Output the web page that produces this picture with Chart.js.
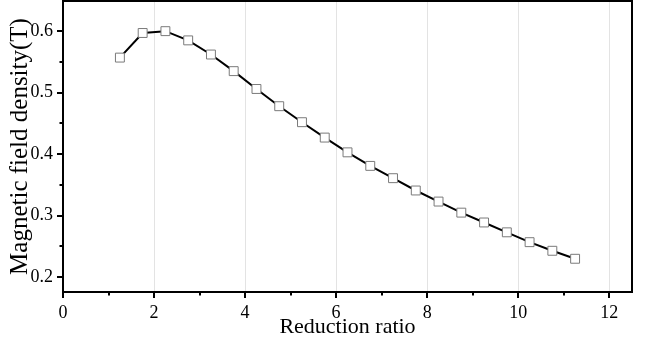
<!DOCTYPE html>
<html>
<head>
<meta charset="utf-8">
<script src="https://cdn.jsdelivr.net/npm/chart.js@4/dist/chart.umd.min.js"></script>
<style>
html,body{margin:0;padding:0;background:#fff;}
#wrap{width:645px;height:348px;}
</style>
</head>
<body>
<div id="wrap"><canvas id="c" width="645" height="348"></canvas></div>
<script>
const reductionRatio = [1.25,1.75,2.25,2.75,3.25,3.75,4.25,4.75,5.25,5.75,6.25,6.75,7.25,7.75,8.25,8.75,9.25,9.75,10.25,10.75,11.25];
const fieldDensity = [0.557,0.597,0.600,0.585,0.562,0.535,0.506,0.478,0.452,0.427,0.403,0.381,0.361,0.341,0.323,0.305,0.289,0.273,0.257,0.243,0.230];
const xMajorTicks = [0,2,4,6,8,10,12];
const xMinorTicks = [1,3,5,7,9,11];
const yMajorTicks = [0.2,0.3,0.4,0.5,0.6];
const yMinorTicks = [0.25,0.35,0.45,0.55];
const xTitle = 'Reduction ratio';
const yTitle = 'Magnetic field density(T)';

const tickPlugin = {
  id: 'tickMarks',
  afterDraw(chart) {
    const ctx = chart.ctx;
    const xs = chart.scales.x, ys = chart.scales.y;
    const a = chart.chartArea;
    ctx.save();
    ctx.strokeStyle = '#000';
    ctx.lineWidth = 2;
    ctx.beginPath();
    xMajorTicks.forEach(v => { const p = Math.round(xs.getPixelForValue(v)); ctx.moveTo(p, a.bottom); ctx.lineTo(p, a.bottom + 6); });
    xMinorTicks.forEach(v => { const p = Math.round(xs.getPixelForValue(v)); ctx.moveTo(p, a.bottom); ctx.lineTo(p, a.bottom + 3.5); });
    yMajorTicks.forEach(v => { const p = Math.round(ys.getPixelForValue(v)); ctx.moveTo(a.left, p); ctx.lineTo(a.left - 6, p); });
    yMinorTicks.forEach(v => { const p = Math.round(ys.getPixelForValue(v)); ctx.moveTo(a.left, p); ctx.lineTo(a.left - 3.5, p); });
    ctx.stroke();
    ctx.beginPath();
    ctx.moveTo(a.left, a.top);
    ctx.lineTo(a.right, a.top);
    ctx.lineTo(a.right, a.bottom);
    ctx.stroke();
    ctx.restore();
  }
};

new Chart(document.getElementById('c'), {
  type: 'line',
  data: {
    datasets: [{
      data: reductionRatio.map((x, i) => ({x: x, y: fieldDensity[i]})),
      borderColor: '#000',
      borderWidth: 2,
      tension: 0,
      pointStyle: 'rect',
      pointRadius: 6.3,
      pointBorderColor: '#7a7a7a',
      pointBackgroundColor: '#fff',
      pointBorderWidth: 1
    }]
  },
  options: {
    responsive: false,
    animation: false,
    layout: { autoPadding: false, padding: { top: 1, right: 13, left: 0, bottom: 0 } },
    plugins: { legend: { display: false }, tooltip: { enabled: false } },
    scales: {
      x: {
        type: 'linear',
        min: 0, max: 12.5,
        afterBuildTicks: s => { s.ticks = xMajorTicks.map(v => ({value: v})); },
        afterFit: s => { s.height = 56; s.paddingLeft = 0; s.paddingRight = 0; },
        grid: {
          drawTicks: false,
          color: c => (c.tick && c.tick.value === 0) ? 'rgba(0,0,0,0)' : '#e3e3e3',
          lineWidth: 1
        },
        border: { display: true, color: '#000', width: 2 },
        ticks: {
          padding: 10,
          color: '#000',
          font: { family: '"Liberation Serif", "Times New Roman", serif', size: 18 },
          callback: v => String(v),
          maxRotation: 0
        },
        title: {
          display: true,
          text: xTitle,
          color: '#000',
          font: { family: '"Liberation Serif", "Times New Roman", serif', size: 22, lineHeight: 1 },
          padding: { top: 0, bottom: 10 }
        }
      },
      y: {
        type: 'linear',
        min: 0.176, max: 0.649,
        afterBuildTicks: s => { s.ticks = yMajorTicks.map(v => ({value: v})); },
        afterFit: s => { s.width = 63; s.paddingTop = 0; s.paddingBottom = 0; },
        grid: { display: true, drawOnChartArea: false, drawTicks: false },
        border: { display: true, color: '#000', width: 2 },
        ticks: {
          padding: 10,
          color: '#000',
          font: { family: '"Liberation Serif", "Times New Roman", serif', size: 18 },
          callback: v => v.toFixed(1)
        },
        title: {
          display: true,
          text: yTitle,
          color: '#000',
          font: { family: '"Liberation Serif", "Times New Roman", serif', size: 25, lineHeight: 1 },
          padding: { top: 8, bottom: 0 }
        }
      }
    }
  },
  plugins: [tickPlugin]
});
</script>
</body>
</html>
